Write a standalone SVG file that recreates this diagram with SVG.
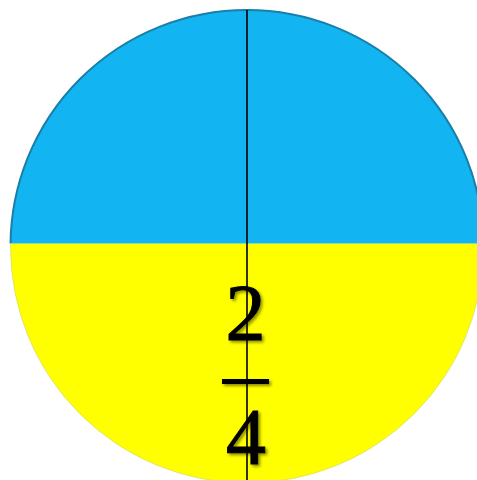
<svg xmlns="http://www.w3.org/2000/svg" width="477" height="480" viewBox="0 0 477 480">
  <defs>
    <clipPath id="top"><rect x="0" y="0" width="477" height="243.5"/></clipPath>
    <clipPath id="bot"><rect x="0" y="243.5" width="477" height="240"/></clipPath>
    <filter id="sh" x="-30%" y="-30%" width="160%" height="160%">
      <feDropShadow dx="2" dy="2" stdDeviation="1.5" flood-color="#000" flood-opacity="0.45"/>
    </filter>
  </defs>
  <style>
    .num { font-family: "Liberation Serif", "DejaVu Serif", serif; font-size: 80px; fill: #000; stroke: #000; stroke-width: 1; text-anchor: middle; }
  </style>
  <rect width="477" height="480" fill="#fff"/>
  <g id="circle">
    <circle cx="247" cy="246.5" r="236.5" fill="#12B5F1" stroke="#1A7FA8" stroke-width="2" clip-path="url(#top)"/>
    <circle cx="247" cy="246.5" r="236.5" fill="#FFFF00" stroke="#D8E060" stroke-width="0.8" clip-path="url(#bot)"/>
    <line x1="10" y1="243.5" x2="477" y2="243.5" stroke="#7CD8A0" stroke-width="0.8"/>
  </g>
  <g id="connectors">
    <line x1="247" y1="10" x2="247" y2="480" stroke="#000" stroke-width="1.6"/>
  </g>
  <g id="fraction" filter="url(#sh)">
    <text class="num" x="245.5" y="340">2</text>
    <rect x="222" y="379" width="47" height="5" fill="#000"/>
    <text class="num" x="246" y="464">4</text>
  </g>
</svg>
